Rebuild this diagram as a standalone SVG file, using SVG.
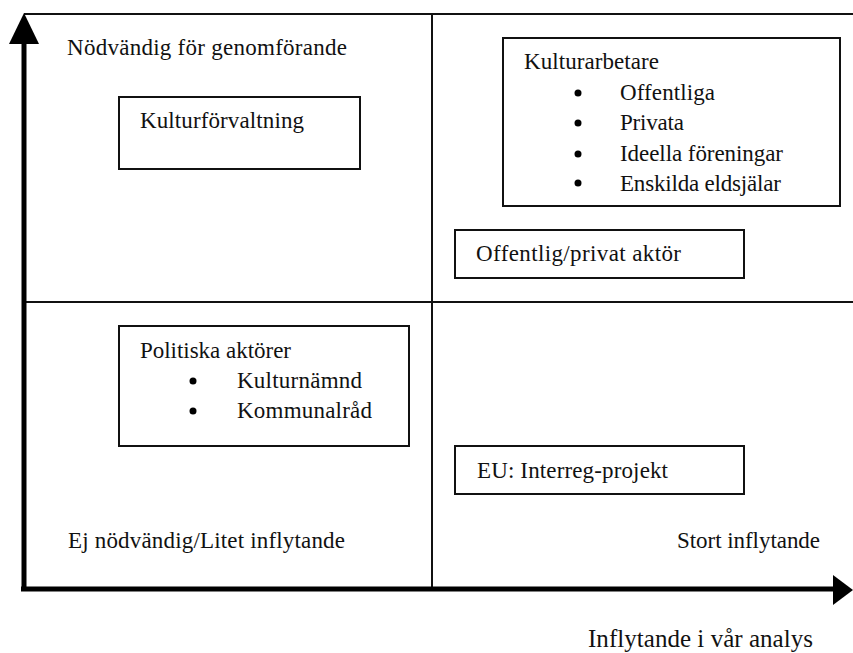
<svg xmlns="http://www.w3.org/2000/svg" width="853" height="653" viewBox="0 0 853 653">
<style>
text{font-family:"Liberation Serif","Times New Roman",serif;font-size:23px;fill:#111}
.box{fill:#fff;stroke:#111;stroke-width:2}
.grid{stroke:#111;stroke-width:2;fill:none}
.axis{stroke:#000;stroke-width:5;fill:none}
.big{font-size:25px}
</style>
<rect width="853" height="653" fill="#fff"/>
<g id="connectors">
<line class="grid" x1="24" y1="14" x2="853" y2="14"/>
<line class="grid" x1="24" y1="302" x2="853" y2="302"/>
<line class="grid" x1="432" y1="14" x2="432" y2="589"/>
<line class="axis" x1="24" y1="40" x2="24" y2="591"/>
<polygon points="24,13 9,44 39,44" fill="#000"/>
<line class="axis" x1="21" y1="589" x2="836" y2="589"/>
<polygon points="853,590 833,575 833,605" fill="#000"/>
</g>
<g id="label-top"><text x="67" y="55" textLength="280">Nödvändig för genomförande</text></g>
<g id="node-kulturforvaltning">
<rect class="box" x="119" y="97" width="241" height="72"/>
<text x="140" y="128" textLength="164">Kulturförvaltning</text>
</g>
<g id="node-kulturarbetare">
<rect class="box" x="503" y="38" width="337" height="168"/>
<text x="524" y="69" textLength="135">Kulturarbetare</text>
<circle cx="578" cy="93" r="3.5" fill="#000"/>
<text x="620" y="100" textLength="95">Offentliga</text>
<circle cx="578" cy="123" r="3.5" fill="#000"/>
<text x="620" y="130" textLength="64">Privata</text>
<circle cx="578" cy="154" r="3.5" fill="#000"/>
<text x="620" y="161" textLength="163">Ideella föreningar</text>
<circle cx="578" cy="183" r="3.5" fill="#000"/>
<text x="620" y="191" textLength="161">Enskilda eldsjälar</text>
</g>
<g id="node-offentlig">
<rect class="box" x="455" y="230" width="289" height="48"/>
<text x="476" y="261" textLength="205">Offentlig/privat aktör</text>
</g>
<g id="node-politiska">
<rect class="box" x="119" y="326" width="290" height="120"/>
<text x="140" y="358" textLength="151">Politiska aktörer</text>
<circle cx="193" cy="381" r="3.5" fill="#000"/>
<text x="237" y="388" textLength="125">Kulturnämnd</text>
<circle cx="193" cy="411" r="3.5" fill="#000"/>
<text x="237" y="418" textLength="135">Kommunalråd</text>
</g>
<g id="node-eu">
<rect class="box" x="455" y="446" width="289" height="48"/>
<text x="477" y="478" textLength="191">EU: Interreg-projekt</text>
</g>
<g id="label-bottom-left"><text x="68" y="548" textLength="277">Ej nödvändig/Litet inflytande</text></g>
<g id="label-bottom-right"><text x="677" y="548" textLength="143">Stort inflytande</text></g>
<g id="label-axis"><text class="big" x="588" y="647" textLength="225">Inflytande i vår analys</text></g>
</svg>
